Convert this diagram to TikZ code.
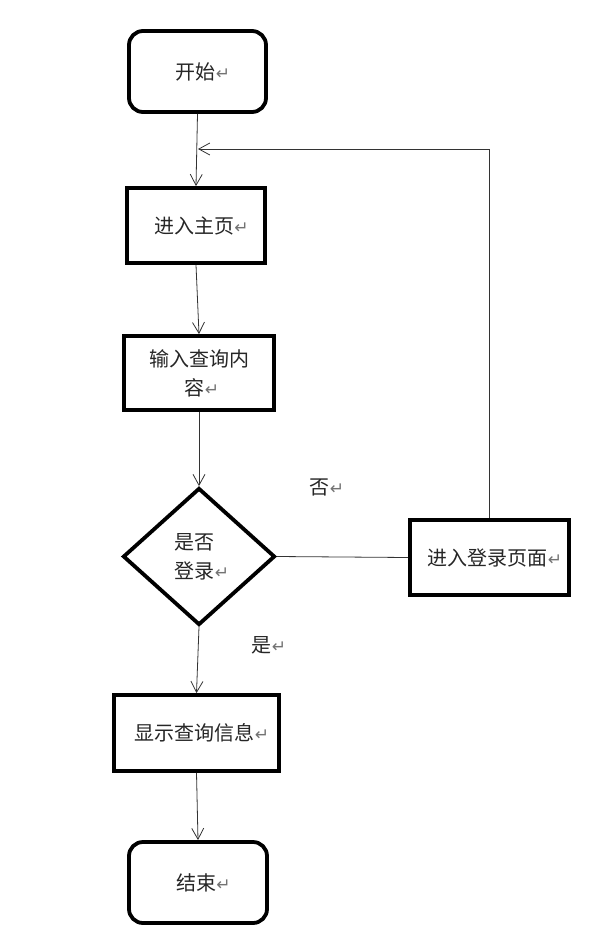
\documentclass[tikz,border=0pt]{standalone}
\usepackage{fontspec}
\setmainfont{Noto Sans CJK SC}
\newfontfamily\symfont{DejaVu Sans}
\usetikzlibrary{arrows.meta,shapes.geometric}
\newcommand{\retmark}{{\symfont\color{black!55}\fontsize{17}{17}\selectfont ↵}}
\newcommand{\leadsp}{\hspace*{11pt}}
\begin{document}
\begin{tikzpicture}[x=1pt,y=-1pt,
  txt/.style={font=\fontsize{20}{29}\selectfont, text=black!85},
  boxstyle/.style={draw, line width=3.8pt, txt, inner sep=2pt, align=center},
  termstyle/.style={boxstyle, rounded corners=14pt},
  decstyle/.style={draw, diamond, line width=3.8pt, txt, inner sep=0pt, align=left},
  arr/.style={draw=black!80, line width=0.8pt, -{Straight Barb[length=11pt,width=12pt,line width=0.8pt]}},
  ln/.style={draw=black!80, line width=0.8pt}]
\useasboundingbox (0,0) rectangle (600,942);
\fill[white] (0,0) rectangle (600,942);
\node[termstyle, minimum width=137pt, minimum height=81pt] (start) at (197.5,71.5) {\leadsp 开始\retmark};
\node[boxstyle, minimum width=138pt, minimum height=75pt] (main) at (196,225.5) {\leadsp 进入主页\retmark};
\node[boxstyle, minimum width=150pt, minimum height=74pt] (input) at (199,373) {输入查询内\\\hspace*{6pt}容\retmark};
\node[decstyle, minimum width=152pt, minimum height=137pt] (dec) at (199,556.5) {\hspace*{6pt}是否\\\hspace*{6pt}登录\retmark};
\node[boxstyle, minimum width=159pt, minimum height=75pt] (login) at (489.5,557.5) {\leadsp 进入登录页面\retmark};
\node[boxstyle, minimum width=165pt, minimum height=76pt] (show) at (196.5,733) {\leadsp 显示查询信息\retmark};
\node[termstyle, minimum width=138pt, minimum height=81pt] (end) at (198,882.5) {\leadsp 结束\retmark};
\node[txt] (no) at (327,487) {否\retmark};
\node[txt] (yes) at (269,645) {是\retmark};
\coordinate (loopend) at (198,149);
\draw[arr] (start.south) -- (main.north);
\draw[arr] (main.south) -- (input.north);
\draw[arr] (input.south) -- (dec.north);
\draw[ln] (dec.east) -- (login.west);
\draw[arr] (login.north) -- (login.north |- loopend) -- (loopend);
\draw[arr] (dec.south) -- (show.north);
\draw[arr] (show.south) -- (end.north);
\end{tikzpicture}
\end{document}
